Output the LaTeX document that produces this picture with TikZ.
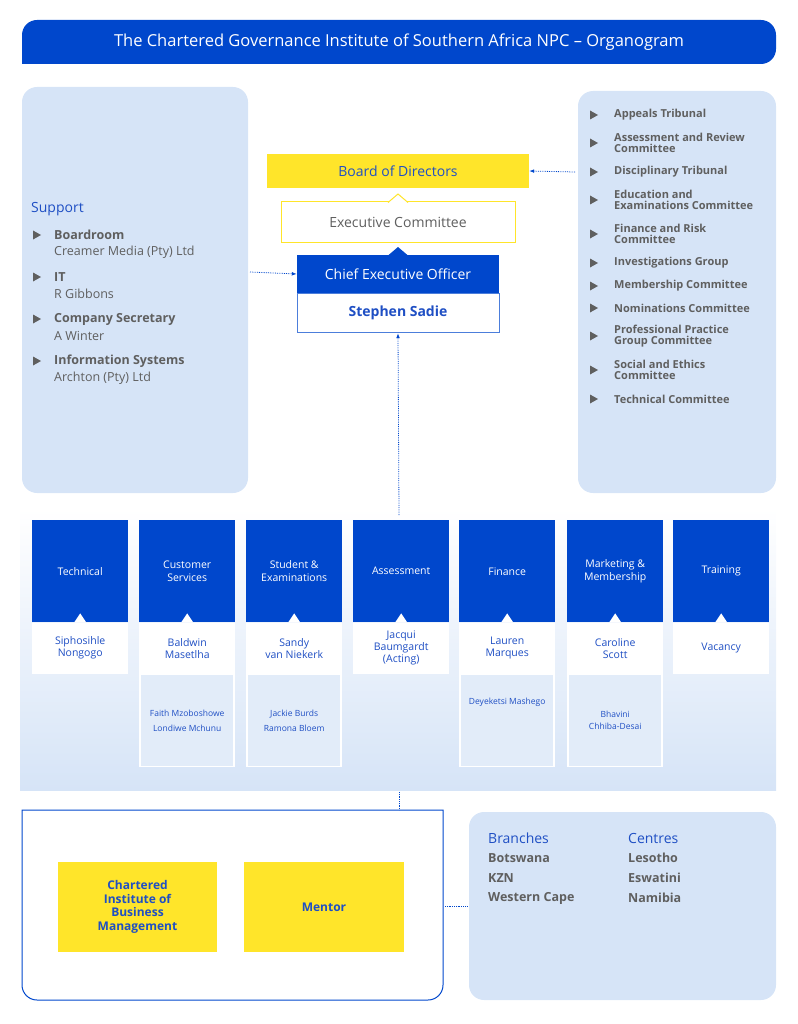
\documentclass[tikz,border=0pt]{standalone}
\usepackage{fontspec}
\setmainfont{Open Sans}
\usetikzlibrary{arrows.meta,positioning}
\definecolor{cisblue}{HTML}{0047CC}
\definecolor{cispale}{HTML}{D6E4F7}
\definecolor{cisyellow}{HTML}{FFE52A}
\definecolor{cisgrey}{HTML}{5F5F5F}
\definecolor{cistext}{HTML}{1F4FC4}

\begin{document}
\begin{tikzpicture}[x=1pt, y=-1pt,
    panel/.style = {fill=cispale, draw=none, rounded corners=15pt},
    dept/.style = {fill=cisblue, text=white, inner sep=2pt, align=center, minimum width=96pt, minimum height=102pt, anchor=north west, font=\fontsize{10.5}{13}\selectfont},
    who/.style = {fill=white, text=cistext, align=center, minimum width=96pt, minimum height=51pt, anchor=north, font=\fontsize{10.5}{12}\selectfont},
    team/.style = {fill=cispale!70, draw=white, line width=1.5pt, text=cistext, align=center, minimum width=94pt, minimum height=92pt, anchor=north, font=\fontsize{8.5}{15}\selectfont},
    item/.style = {anchor=west, align=left, inner sep=0pt},
    rule/.style = {-{Latex[length=5pt]}, cisblue, densely dotted, line width=0.8pt},
    bullet/.style = {fill=cisgrey, draw=none}]
  \useasboundingbox (0,0) rectangle (797,1024);

  % title bar
  \fill[cisblue, rounded corners=15pt] (22,64) -- (22,20) -- (776,20) -- (776,64) [sharp corners] -- cycle;
  \node[text=white, font=\fontsize{16.5}{18}\selectfont] (title) at (399,42) {The Chartered Governance Institute of Southern Africa NPC – Organogram};

  % side panels
  \fill[panel] (22,87) rectangle (248,493);
  \fill[panel] (578,91) rectangle (776,493);
  \coordinate (lpanel) at (250,272);
  \coordinate (rpanel) at (575,172);

  \node[item, text=cistext, font=\fontsize{14}{16}\selectfont] (support) at (31,209) {Support};
  \foreach \y/\head/\body [count=\i] in {235/Boardroom/Creamer Media (Pty) Ltd, 277/IT/R Gibbons, 319/Company Secretary/A Winter, 361/Information Systems/Archton (Pty) Ltd} {
    \fill[bullet] (33,\y-4.5) -- (41,\y) -- (33,\y+4.5) -- cycle;
    \node[item, text=cisgrey, font=\fontsize{12.5}{15}\selectfont\bfseries] (sh\i) at (54,\y) {\head};
    \node[item, text=cisgrey, font=\fontsize{12.5}{15}\selectfont] (sb\i) at (54,\y+17) {\body};
  }

  \foreach \y/\txt [count=\i] in {115/Appeals Tribunal, 143/Assessment and Review\\Committee, 172/Disciplinary Tribunal, 200/Education and\\Examinations Committee, 234/Finance and Risk\\Committee, 263/Investigations Group, 286/Membership Committee, 308/Nominations Committee, 336/Professional Practice\\Group Committee, 370/Social and Ethics\\Committee, 399/Technical Committee} {
    \fill[bullet] (590,\y-4.5) -- (598,\y) -- (590,\y+4.5) -- cycle;
    \node[item, text=cisgrey, font=\fontsize{11}{11.5}\selectfont\bfseries] (c\i) at (614,\y) {\txt};
  }

  % board and executive
  \node[fill=cisyellow, text=cistext, minimum width=262pt, minimum height=34pt, font=\fontsize{14}{16}\selectfont] (board) at (398,171) {Board of Directors};
  \node[fill=white, draw=cisyellow, line width=1pt, text=cisgrey, minimum width=234pt, minimum height=40pt, font=\fontsize{14}{16}\selectfont] (exco) at (398,222) {Executive Committee};
  \draw[cisyellow, line width=1pt, fill=white] (388,202.5) -- (398,194) -- (408,202.5);
  \node[fill=cisblue, text=white, minimum width=202pt, minimum height=38pt, font=\fontsize{14}{16}\selectfont] (ceo) at (398,274) {Chief Executive Officer};
  \fill[cisblue] (388,255.5) -- (398,247) -- (408,255.5) -- cycle;
  \node[fill=white, draw=cisblue!70, line width=1pt, text=cistext, minimum width=202pt, minimum height=39pt, below=0pt of ceo, font=\fontsize{14}{16}\selectfont\bfseries] (sadie) {Stephen Sadie};

  \draw[rule] (rpanel) -- (board.east);
  \draw[rule] (lpanel) -- (ceo.west);

  % departments band
  \shade[top color=white, bottom color=cispale] (20,508) rectangle (776,790);
  \coordinate (band) at (399,515);
  \draw[rule] (band) -- (sadie.south);

  \foreach \x/\dname/\pname [count=\i] in {
      32/Technical/Siphosihle\\Nongogo,
      139/Customer\\Services/Baldwin\\Masetlha,
      246/Student \&\\Examinations/Sandy\\van Niekerk,
      353/Assessment/Jacqui\\Baumgardt\\(Acting),
      459/Finance/Lauren\\Marques,
      567/Marketing \&\\Membership/Caroline\\Scott,
      673/Training/Vacancy} {
    \node[dept] (d\i) at (\x,520) {\dname};
    \node[who, below=0pt of d\i] (p\i) {\pname};
    \fill[white] ([xshift=-6pt]d\i.south) -- ([yshift=9pt]d\i.south) -- ([xshift=6pt]d\i.south) -- cycle;
  }
  \node[team, below=0pt of p2] (t2) {Faith Mzoboshowe\\Londiwe Mchunu};
  \node[team, below=0pt of p3] (t3) {Jackie Burds\\Ramona Bloem};
  \node[team, below=0pt of p5] (t5) {Deyeketsi Mashego\\[20pt]\strut};
  \node[team, below=0pt of p6, font=\fontsize{8.5}{11.5}\selectfont] (t6) {Bhavini\\Chhiba-Desai};

  % affiliates
  \coordinate (bandfoot) at (399,792);
  \draw[cisblue, densely dotted, line width=0.8pt] (bandfoot) -- (399,810);
  \draw[cisblue, line width=1pt, rounded corners=15pt] (443,810) [sharp corners] -- (22,810) [rounded corners=15pt] -- (22,1000) -- (443,1000) [sharp corners] -- cycle;
  \node[fill=cisyellow, text=cistext, minimum width=159pt, minimum height=90pt, align=center, font=\fontsize{12}{13.5}\selectfont\bfseries] (cibm) at (137.5,907) {Chartered\\Institute of\\Business\\Management};
  \node[fill=cisyellow, text=cistext, minimum width=160pt, minimum height=90pt, font=\fontsize{12}{14}\selectfont\bfseries] (mentor) at (324,907) {Mentor};

  \fill[panel] (469,812) rectangle (776,1000);
  \coordinate (rbranch) at (467,906);
  \draw[cisblue, densely dotted, line width=0.8pt] (445,906) -- (rbranch);
  \node[item, text=cistext, font=\fontsize{14}{16}\selectfont] (branches) at (488,838) {Branches};
  \node[item, text=cistext, font=\fontsize{14}{16}\selectfont] (centres) at (628,838) {Centres};
  \foreach \y/\b/\c [count=\i] in {858/Botswana/Lesotho, 878/KZN/Eswatini, 898/Western Cape/Namibia} {
    \node[item, text=cisgrey, font=\fontsize{12.5}{15}\selectfont\bfseries] (b\i) at (488,\y) {\b};
    \node[item, text=cisgrey, font=\fontsize{12.5}{15}\selectfont\bfseries] (e\i) at (628,\y) {\c};
  }
\end{tikzpicture}
\end{document}
